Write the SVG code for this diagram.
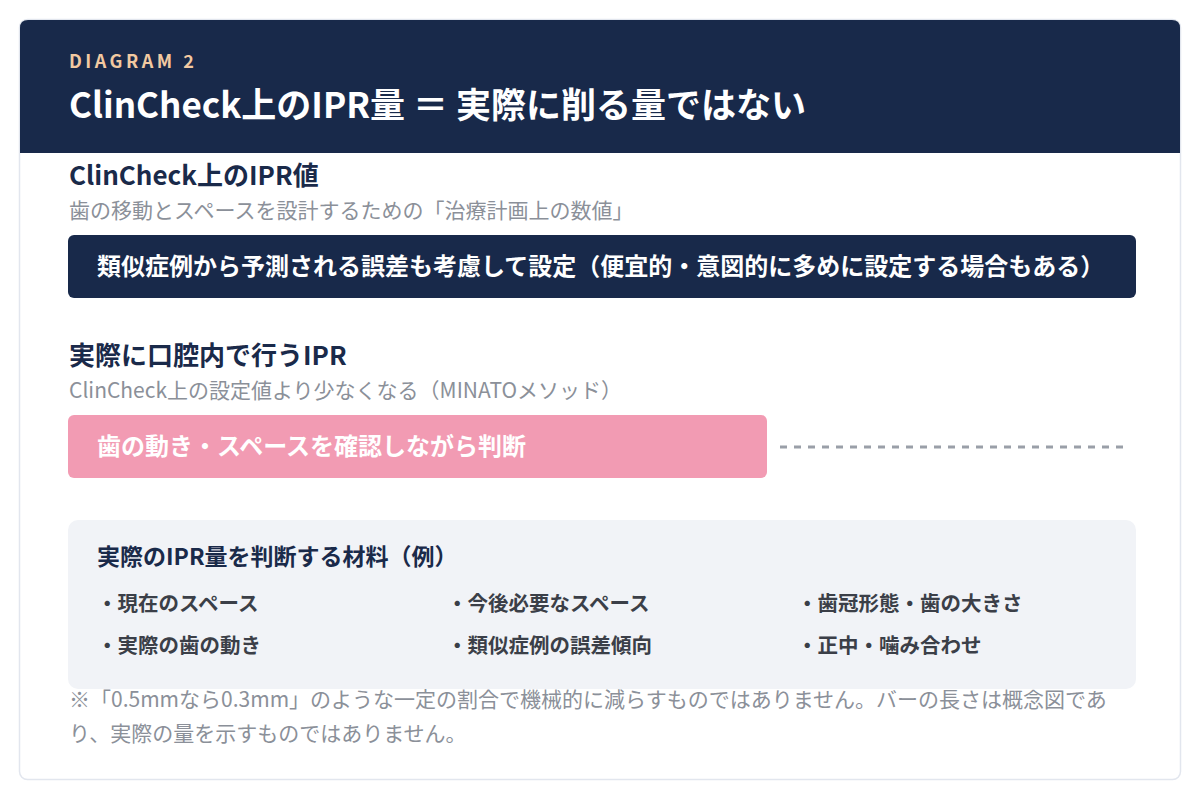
<svg xmlns="http://www.w3.org/2000/svg" width="1200" height="800" viewBox="0 0 1200 800">
<style>
text{font-family:"Noto Sans CJK JP","Noto Sans",sans-serif}
.eyebrow{font-size:18px;font-weight:700;fill:#f2c9a1;letter-spacing:3.5px}
.title{font-size:35px;font-weight:700;fill:#ffffff}
.h{font-size:26px;font-weight:700;fill:#1a2a4a}
.sub{font-size:21px;fill:#8b9099}
.bar{font-size:24px;font-weight:700;fill:#ffffff}
.bh{font-size:23px;font-weight:700;fill:#1a2a4a}
.item{font-size:20.5px;font-weight:700;fill:#3b3f48}
.note{font-size:21px;fill:#8b9099}
</style>
<rect x="0" y="0" width="1200" height="800" fill="#ffffff"/>
<g id="card">
<rect x="19.5" y="19.5" width="1161" height="760" rx="8" fill="#ffffff" stroke="#e2e6ee" stroke-width="1.5"/>
<path d="M20 28 Q20 20 28 20 L1172 20 Q1180 20 1180 28 L1180 153 L20 153 Z" fill="#18294a"/>
<text class="eyebrow" x="69" y="68">DIAGRAM 2</text>
<text class="title" x="69" y="118">ClinCheck上のIPR量 ＝ 実際に削る量ではない</text>
</g>
<g id="plan">
<text class="h" x="69" y="185">ClinCheck上のIPR値</text>
<text class="sub" x="69" y="218">歯の移動とスペースを設計するための「治療計画上の数値」</text>
<rect x="68" y="235" width="1068" height="63" rx="6" fill="#18294a"/>
<text class="bar" x="97" y="275">類似症例から予測される誤差も考慮して設定（便宜的・意図的に多めに設定する場合もある）</text>
</g>
<g id="actual">
<text class="h" x="69" y="365">実際に口腔内で行うIPR</text>
<text class="sub" x="69" y="398">ClinCheck上の設定値より少なくなる（MINATOメソッド）</text>
<rect x="68" y="415" width="699" height="63" rx="6" fill="#f29bb3"/>
<text class="bar" x="97" y="455">歯の動き・スペースを確認しながら判断</text>
</g>
<g id="connectors">
<line x1="780" y1="447" x2="1126" y2="447" stroke="#9a9fa8" stroke-width="3" stroke-dasharray="7 7"/>
</g>
<g id="materials">
<rect x="68" y="520" width="1068" height="169" rx="10" fill="#f1f3f7"/>
<text class="bh" x="97" y="565">実際のIPR量を判断する材料（例）</text>
<text class="item" x="97" y="611">・現在のスペース</text>
<text class="item" x="447" y="611">・今後必要なスペース</text>
<text class="item" x="797" y="611">・歯冠形態・歯の大きさ</text>
<text class="item" x="97" y="653">・実際の歯の動き</text>
<text class="item" x="447" y="653">・類似症例の誤差傾向</text>
<text class="item" x="797" y="653">・正中・噛み合わせ</text>
</g>
<g id="footnote">
<text class="note" x="69" y="707">※「0.5mmなら0.3mm」のような一定の割合で機械的に減らすものではありません。バーの長さは概念図であ</text>
<text class="note" x="69" y="741">り、実際の量を示すものではありません。</text>
</g>
</svg>
